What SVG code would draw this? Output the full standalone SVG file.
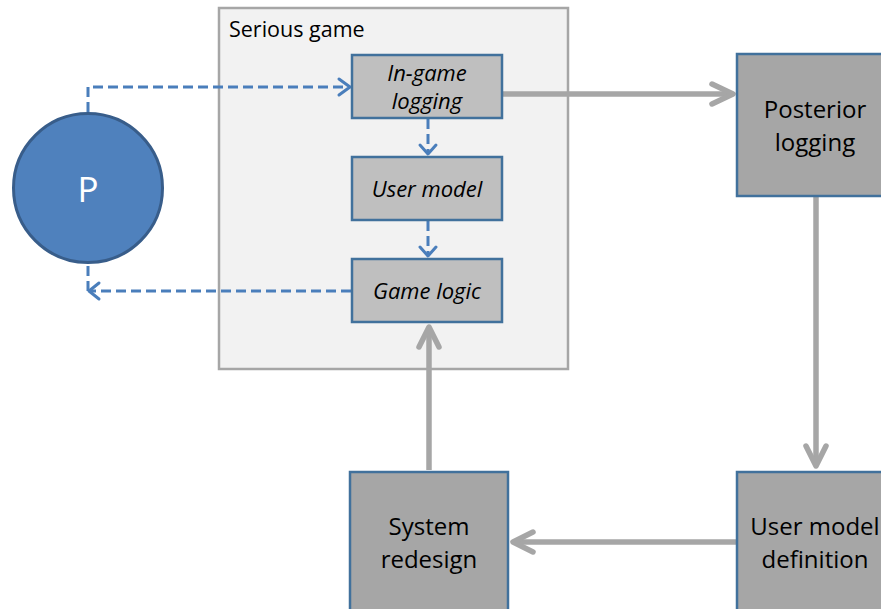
<svg xmlns="http://www.w3.org/2000/svg" width="881" height="609" viewBox="0 0 881 609">
<defs>
<style>
.t{font-family:"Open Sans","Liberation Sans",sans-serif;fill:#000;text-anchor:middle}
.it{font-style:italic;font-size:22px}
.big{font-size:24px}
.small{fill:#bfbfbf;stroke:#41719c;stroke-width:2.5}
.dark{fill:#a6a6a6;stroke:#41719c;stroke-width:2.5}
.dash{fill:none;stroke:#4a7ebb;stroke-width:3;stroke-dasharray:10 5}
.head{fill:none;stroke:#4a7ebb;stroke-width:3;stroke-linecap:round;stroke-linejoin:round}
.gray{fill:none;stroke:#a6a6a6;stroke-width:5.5}
.ghead{fill:none;stroke:#a6a6a6;stroke-width:5.5;stroke-linecap:round;stroke-linejoin:round}
</style>
</defs>
<g id="serious-game">
<rect x="219" y="8" width="349" height="361" fill="#f2f2f2" stroke="#a6a6a6" stroke-width="2.5"/>
<text x="229" y="37" style="font-family:'Open Sans','Liberation Sans',sans-serif;font-size:21.5px" fill="#000">Serious game</text>
</g>
<g id="connectors">
<path class="dash" d="M88,112 V87 H349"/>
<path class="head" d="M339,79 L350,87 L339,95"/>
<path class="dash" d="M428,119 V154"/>
<path class="head" d="M420,145 L428,154 L436,145"/>
<path class="dash" d="M428,221 V256"/>
<path class="head" d="M420,247 L428,256 L436,247"/>
<path class="dash" d="M351,291 H89 M88,291 V264"/>
<path class="head" d="M99,283 L89,291 L99,299"/>
<path class="gray" d="M503,94 H733"/>
<path class="ghead" d="M712,84 L733,94 L712,104"/>
<path class="gray" d="M816,197 V466"/>
<path class="ghead" d="M806,446 L816,466 L826,446"/>
<path class="gray" d="M736,542 H513"/>
<path class="ghead" d="M533,532 L513,542 L533,552"/>
<path class="gray" d="M429,470 V327"/>
<path class="ghead" d="M419,347 L429,327 L439,347"/>
</g>
<g id="player">
<circle cx="88" cy="188" r="74.5" fill="#4f81bd" stroke="#385d8a" stroke-width="3"/>
<text x="88" y="202" style="font-family:'Open Sans','Liberation Sans',sans-serif;font-size:35px;text-anchor:middle" fill="#fff">P</text>
</g>
<g id="in-game-logging">
<rect class="small" x="352" y="55" width="150" height="63"/>
<text class="t it" x="427" y="81">In-game</text>
<text class="t it" x="427" y="109">logging</text>
</g>
<g id="user-model">
<rect class="small" x="352" y="157" width="150" height="63"/>
<text class="t it" x="427" y="197">User model</text>
</g>
<g id="game-logic">
<rect class="small" x="352" y="259" width="150" height="63"/>
<text class="t it" x="427" y="299">Game logic</text>
</g>
<g id="posterior-logging">
<rect class="dark" x="737" y="54" width="160" height="142"/>
<text class="t big" x="815" y="118">Posterior</text>
<text class="t big" x="815" y="151">logging</text>
</g>
<g id="user-model-definition">
<rect class="dark" x="737" y="472" width="160" height="150"/>
<text class="t big" x="815" y="535">User model</text>
<text class="t big" x="815" y="568">definition</text>
</g>
<g id="system-redesign">
<rect class="dark" x="350" y="472" width="158" height="150"/>
<text class="t big" x="429" y="535">System</text>
<text class="t big" x="429" y="568">redesign</text>
</g>
</svg>
